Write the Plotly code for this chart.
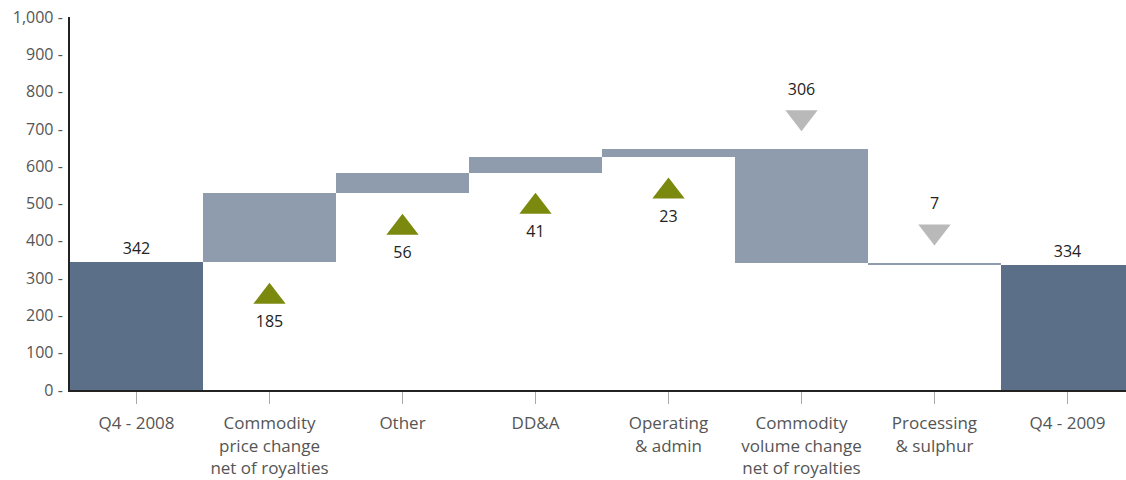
import plotly.graph_objects as go

categories = ["Q4 - 2008", "Commodity<br>price change<br>net of royalties", "Other", "DD&A",
              "Operating<br>& admin", "Commodity<br>volume change<br>net of royalties",
              "Processing<br>& sulphur", "Q4 - 2009"]
values = [342, 185, 56, 41, 23, -306, -7, 334]
measures = ["total", "delta", "delta", "delta", "delta", "delta", "delta", "total"]
y_ticks = [0, 100, 200, 300, 400, 500, 600, 700, 800, 900, 1000]
y_tick_text = [f"{v:,} -" for v in y_ticks]

TOTAL_COLOR = "#5c6f88"
DELTA_COLOR = "#8e9cad"
UP_COLOR = "#7b8a0e"
DOWN_COLOR = "#b9b9b9"
FONT = "Open Sans"

bases, heights, colors = [], [], []
running = 0
for v, m in zip(values, measures):
    if m == "total":
        bases.append(0)
        heights.append(v)
        colors.append(TOTAL_COLOR)
        running = v
    else:
        lo = min(running, running + v)
        bases.append(lo)
        heights.append(abs(v))
        colors.append(DELTA_COLOR)
        running += v

fig = go.Figure()
fig.add_trace(go.Bar(
    x=categories, y=heights, base=bases,
    marker=dict(color=colors, line=dict(width=0)),
    text=[str(v) if m == "total" else "" for v, m in zip(values, measures)],
    textposition="outside", cliponaxis=False,
    textfont=dict(family=FONT, size=16, color="#222222"),
    hoverinfo="skip", showlegend=False,
))

up_x, up_y, up_t, dn_x, dn_y, dn_t = [], [], [], [], [], []
UP_OFFSET = 92
DN_OFFSET = 84
for c, v, m, b, h in zip(categories, values, measures, bases, heights):
    if m != "delta":
        continue
    if v > 0:
        up_x.append(c); up_y.append(b - UP_OFFSET); up_t.append(str(abs(v)))
    else:
        dn_x.append(c); dn_y.append(b + h + DN_OFFSET); dn_t.append(str(abs(v)))

fig.add_trace(go.Scatter(
    x=up_x, y=up_y, mode="markers+text", text=up_t, textposition="bottom center",
    marker=dict(symbol="triangle-up", size=28, color=UP_COLOR),
    textfont=dict(family=FONT, size=16, color="#222222"),
    hoverinfo="skip", showlegend=False,
))
fig.add_trace(go.Scatter(
    x=dn_x, y=dn_y, mode="markers+text", text=dn_t, textposition="top center",
    marker=dict(symbol="triangle-down", size=28, color=DOWN_COLOR),
    textfont=dict(family=FONT, size=16, color="#222222"),
    hoverinfo="skip", showlegend=False,
))

fig.update_layout(
    width=1126, height=480,
    margin=dict(l=70, r=0, t=17, b=90),
    paper_bgcolor="white", plot_bgcolor="white",
    bargap=0,
    font=dict(family=FONT, color="#555555", size=16),
    xaxis=dict(
        type="category", range=[-0.5, 7.44],
        showline=True, linecolor="#222222", linewidth=2,
        ticks="outside", ticklen=12, tickcolor="#aaaaaa", tickwidth=1,
        ticklabelstandoff=5,
        tickfont=dict(family=FONT, size=17, color="#555555"),
        showgrid=False, zeroline=False,
    ),
    yaxis=dict(
        range=[0, 1000], tickvals=y_ticks, ticktext=y_tick_text,
        showline=True, linecolor="#222222", linewidth=2,
        ticks="", ticklabelstandoff=2, showgrid=False, zeroline=False,
        tickfont=dict(family=FONT, size=16, color="#555555"),
    ),
)

fig.write_html("out.html")
